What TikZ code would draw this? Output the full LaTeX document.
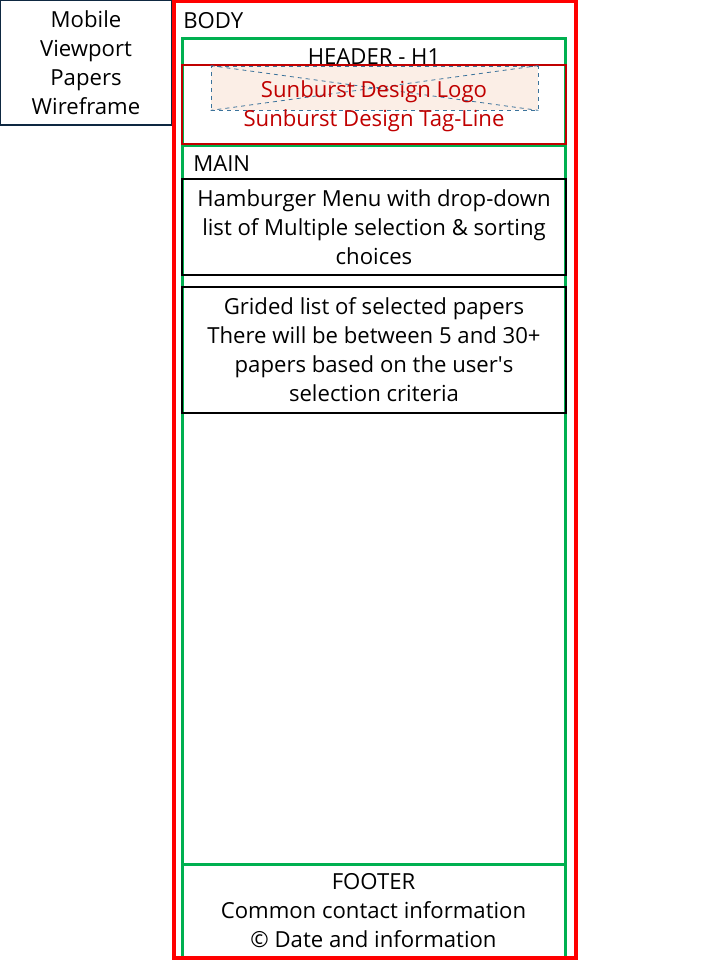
\documentclass[tikz,border=0pt]{standalone}
\usepackage{fontspec}
\setmainfont{Open Sans}
\usepackage{xcolor}
\usetikzlibrary{positioning}
\definecolor{titleblue}{RGB}{14,40,65}
\definecolor{bodyred}{RGB}{255,0,0}
\definecolor{webgreen}{RGB}{0,176,80}
\definecolor{logored}{RGB}{192,0,0}
\definecolor{dashblue}{RGB}{60,115,155}
\definecolor{logopeach}{RGB}{251,238,230}

\begin{document}
\begin{tikzpicture}[x=0.75pt, y=-0.75pt,
    every node/.style={font=\fontsize{16.6}{21.75}\selectfont, inner sep=0pt, align=center},
    greenbox/.style={rectangle, draw=webgreen, line width=2.25pt},
    blackbox/.style={rectangle, draw=black, line width=1.5pt}]
    \useasboundingbox (0,0) rectangle (720,960);

    % Title of the wireframe
    \node[rectangle, draw=titleblue, line width=1.5pt, minimum width=129pt, minimum height=93.75pt] (title) at (86,62.5) {
        Mobile\\ Viewport\\ Papers\\ Wireframe
    };

    % Header, main and footer areas
    \node[greenbox, minimum width=287.25pt, minimum height=79.9pt] (header) at (373.5,91.75) {};
    \node[greenbox, minimum width=287.25pt, minimum height=539.25pt] (main) at (373.5,504.5) {};
    \node[greenbox, minimum width=287.25pt, minimum height=70.5pt] (footer) at (373.5,911) {
        FOOTER\\ Common contact information\\ \textcopyright{} Date and information
    };

    % Body
    \node[rectangle, draw=bodyred, line width=2.6pt, minimum width=301.5pt, minimum height=717.4pt] (body) at (375,479.75) {};
    \node[anchor=west] (bodylabel) at (183,20.5) {BODY};

    % Header content
    \node[rectangle, draw=logored, line width=1.6pt, minimum width=288pt, minimum height=59.25pt] (brand) at (374,104.5) {};
    \node (headerlabel) at (374,57) {HEADER - H1};
    \node[rectangle, draw=dashblue, dashed, fill=logopeach, line width=0.6pt, minimum width=245.25pt, minimum height=33pt] (logo) at (374.5,88) {};
    \draw[dashblue, dashed, line width=0.6pt] (logo.north west) -- (logo.south east);
    \draw[dashblue, dashed, line width=0.6pt] (logo.north east) -- (logo.south west);
    \node[text=logored] (logotext) at (374,91.5) {Sunburst Design Logo};
    \node[text=logored] (tagline) at (374,120.5) {Sunburst Design Tag-Line};

    % Main content
    \node[anchor=west] (mainlabel) at (193,163.5) {MAIN};
    \node[blackbox, minimum width=288pt, minimum height=72pt] (menu) at (374,227) {
        Hamburger Menu with drop-down\\ list of Multiple selection \& sorting\\ choices
    };
    \node[blackbox, minimum width=288pt, minimum height=94.5pt] (papers) at (374,350) {
        Grided list of selected papers\\ There will be between 5 and 30+\\ papers based on the user\textquotesingle s\\ selection criteria
    };
\end{tikzpicture}
\end{document}
